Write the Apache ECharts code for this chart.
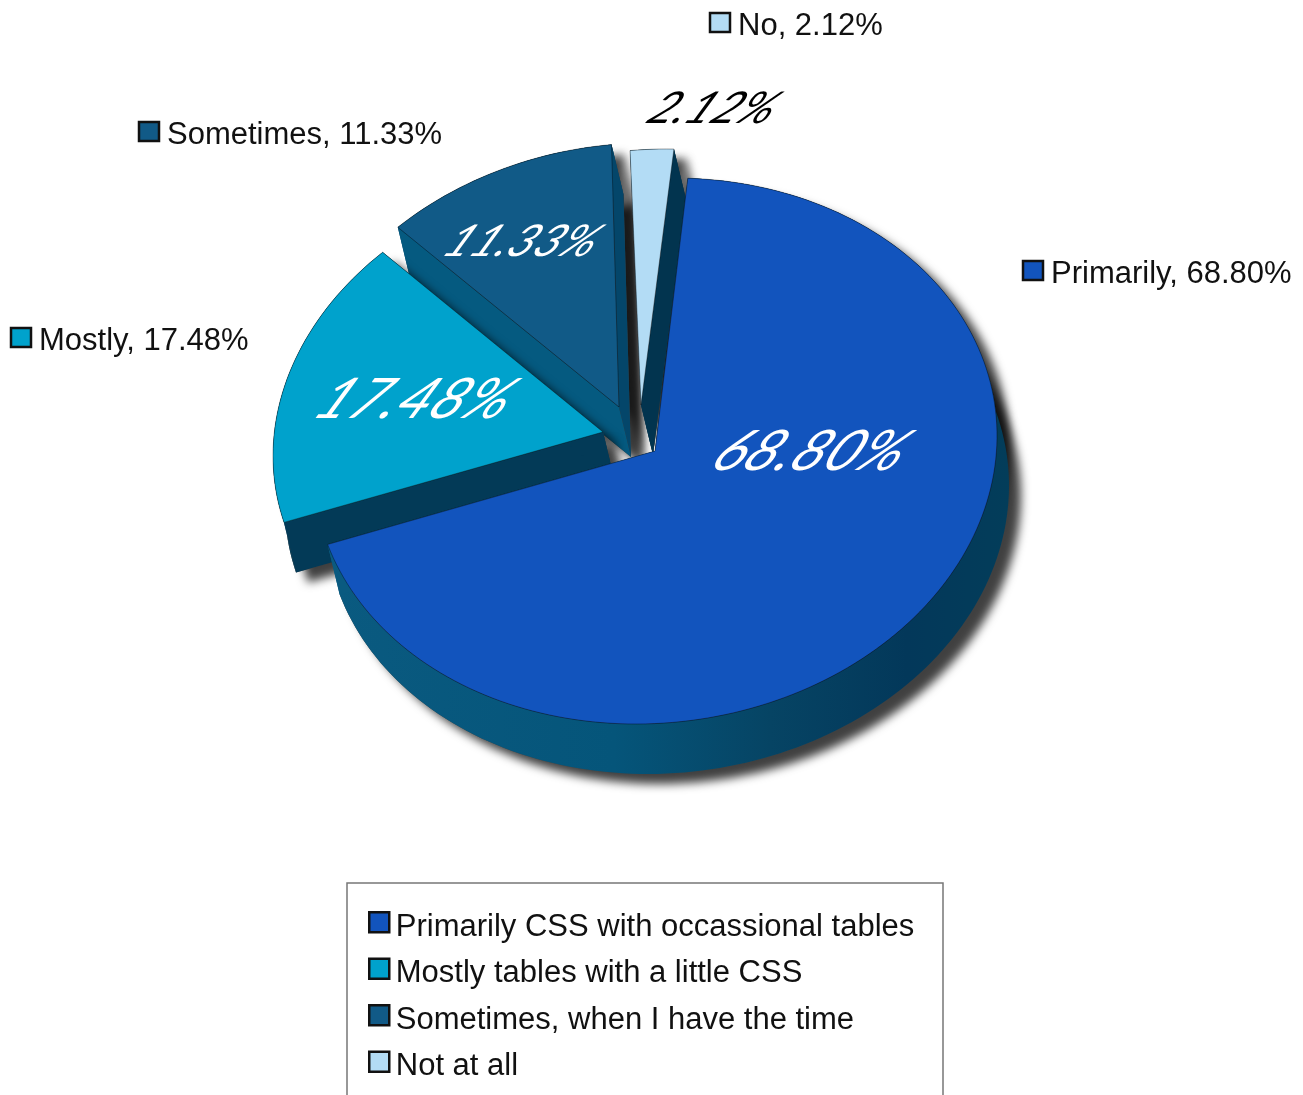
<!DOCTYPE html>
<html>
<head>
<meta charset="utf-8">
<title>CSS or tables</title>
<script src="https://cdn.jsdelivr.net/npm/echarts@6/dist/echarts.min.js"></script>
<style>
html, body { margin: 0; padding: 0; background: #fff; overflow: hidden; }
#main { width: 1303px; height: 1095px; }
</style>
</head>
<body>
<div id="main"></div>
<script>
// data
var categories = ['Primarily CSS with occassional tables', 'Mostly tables with a little CSS', 'Sometimes, when I have the time', 'Not at all']
var shortNames = ['Primarily', 'Mostly', 'Sometimes', 'No']
var values = [68.80, 17.48, 11.33, 2.12]

// look of each slice, same order as the data
var faceColors = ['#1254bd', '#00a2cc', '#115a87', '#b3dcf5']
var wallColors = ['#05507a', '#03405e', '#04466a', '#02344f']
var cutColorsA = ['#033a57', '#033a57', '#055a80', '#02344f']
var cutColorsB = ['#0a5a80', '#033a57', '#04466a', '#02344f']
var pctColors = ['#fff', '#fff', '#fff', '#000']
// apex of the exploded slice, radii, x skew of the tilted disc (degrees)
var slices = [
    { cx: 655, cy: 451, rx: 342, ry: 273, skew: 3.2 },
    { cx: 603, cy: 432, rx: 330, ry: 264, skew: 5.2 },
    { cx: 619, cy: 407, rx: 330, ry: 264, skew: 5 },
    { cx: 641, cy: 405, rx: 330, ry: 256, skew: 4.4 }
]
var pctPos = [[812, 452, 56], [416, 400, 56], [523, 242, 44], [714, 109, 44]]
var tagPos = [[1023, 261], [11, 328], [139, 122], [710, 13]]
var drawOrder = [5, 4, 2, 3]

var START_ANGLE = 2.3
var DEG_PER_PCT = 3.6
var DEPTH_X = 12
var DEPTH_Y = 50
var FONT = '"Liberation Sans", Arial, sans-serif'

function point(s, deg) {
    var rad = deg * Math.PI / 180
    var radX = (deg + s.skew) * Math.PI / 180
    return [s.cx + s.rx * Math.sin(radX), s.cy - s.ry * Math.cos(rad)]
}
function arc(s, a0, a1) {
    var pts = []
    var n = Math.ceil((a1 - a0) / 1.5)
    for (var i = 0; i <= n; i++) pts.push(point(s, a0 + (a1 - a0) * i / n))
    return pts
}
function shift(pts) {
    return pts.map(function (p) { return [p[0] + DEPTH_X, p[1] + DEPTH_Y] })
}
function poly(pts, style) {
    return { type: 'polygon', shape: { points: pts }, style: style }
}
function cutFace(s, deg, style) {
    var top = [[s.cx, s.cy], point(s, deg)]
    return poly(top.concat(shift(top).reverse()), style)
}

function renderSlice(params, api) {
    var i = params.seriesIndex
    var s = slices[i]
    var before = 0
    for (var k = 0; k < i; k++) before += values[k]
    var a0 = START_ANGLE + before * DEG_PER_PCT
    var a1 = a0 + api.value(0) * DEG_PER_PCT
    var rim = arc(s, a0, a1)
    var top = [[s.cx, s.cy]].concat(rim)
    var shadow = { fill: '#444', shadowBlur: 10, shadowColor: 'rgba(0,0,0,0.75)', shadowOffsetX: 12, shadowOffsetY: 10 }
    var wallFill = i === 0 ? new echarts.graphic.LinearGradient(0, 0, 1, 0, [
        { offset: 0, color: '#0a5a80' },
        { offset: 0.42, color: '#05557a' },
        { offset: 0.65, color: '#064464' },
        { offset: 0.85, color: '#03385a' },
        { offset: 1, color: '#033d5a' }
    ]) : wallColors[i]
    var pct = pctPos[i]
    var tag = tagPos[i]
    var children = [
        poly(shift(top), shadow),
        poly(top, shadow)
    ]
    // the gaps next to the exploded slices are filled by their side face shadows
    if (i >= 2) children.push(cutFace(s, a1, shadow))
    if (i === 1) children.push(poly([[s.cx, s.cy], [s.cx + DEPTH_X, s.cy + DEPTH_Y], [s.cx - 30, s.cy + 8]], shadow))
    children.push(
        poly(rim.concat(shift(rim).reverse()), { fill: wallFill }),
        cutFace(s, a0, { fill: cutColorsA[i] }),
        cutFace(s, a1, { fill: cutColorsB[i] }),
        poly(top, { fill: faceColors[i], stroke: 'rgba(0,0,0,0.45)', lineWidth: 0.8 }),
        {
            type: 'text',
            x: pct[0], y: pct[1],
            skewX: -0.55,
            scaleX: 1.03,
            style: {
                text: values[i].toFixed(2) + '%',
                fill: pctColors[i],
                font: 'italic 400 ' + pct[2] + 'px Lato, sans-serif',
                align: 'center', verticalAlign: 'middle'
            }
        },
        {
            type: 'rect',
            shape: { x: tag[0], y: tag[1], width: 20, height: 19 },
            style: { fill: faceColors[i], stroke: '#111', lineWidth: 2.5 }
        },
        {
            type: 'text',
            x: tag[0] + 28, y: tag[1] + 13,
            style: {
                text: shortNames[i] + ', ' + values[i].toFixed(2) + '%',
                fill: '#111',
                font: '31px ' + FONT,
                align: 'left', verticalAlign: 'middle'
            }
        }
    )
    return { type: 'group', children: children }
}

var myChart = echarts.init(document.getElementById('main'), null, { renderer: 'canvas' })
myChart.setOption({
    backgroundColor: '#fff',
    animation: false,
    graphic: [{
        type: 'rect',
        shape: { x: 347, y: 883, width: 596, height: 300 },
        style: { fill: 'none', stroke: '#777', lineWidth: 1.5 }
    }],
    legend: {
        data: categories,
        orient: 'vertical',
        left: 368,
        top: 911,
        padding: 0,
        itemWidth: 21.5,
        itemHeight: 30,
        itemGap: 14,
        // square sits in the top left of the box so the text hangs lower than it
        icon: 'path://M0 0h20v20h-20z M21.5 30h0',
        selectedMode: false,
        itemStyle: { borderColor: '#111', borderWidth: 2.5 },
        textStyle: { color: '#111', fontFamily: FONT, fontSize: 31 }
    },
    series: categories.map(function (name, i) {
        return {
            name: name,
            type: 'custom',
            coordinateSystem: 'none',
            z: drawOrder[i],
            silent: true,
            itemStyle: { color: faceColors[i] },
            data: [[values[i]]],
            renderItem: renderSlice
        }
    })
})
</script>
</body>
</html>
